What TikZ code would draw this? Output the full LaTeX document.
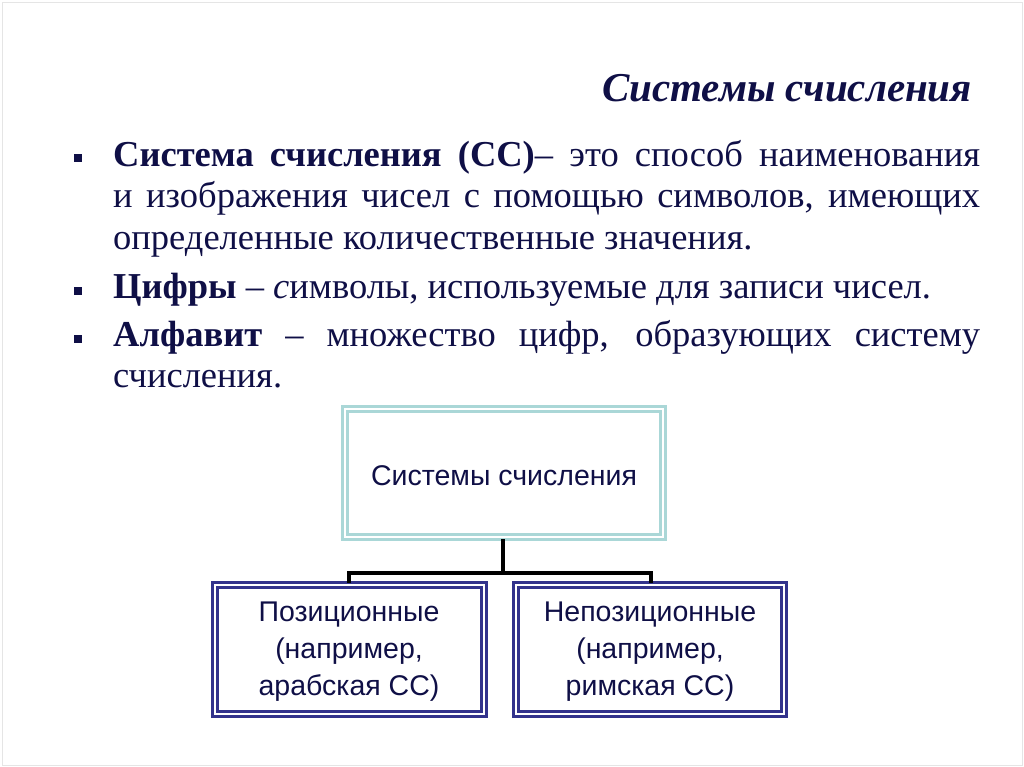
\documentclass[tikz,border=0pt]{standalone}
\usepackage{fontspec}
\setmainfont{Liberation Serif}
\newfontfamily\boxfont{Liberation Sans}
\definecolor{navy}{RGB}{15,15,70}
\definecolor{boxblue}{RGB}{50,50,140}
\definecolor{lcyan}{RGB}{170,215,215}
\tikzset{
 dbl/.style={draw=#1,line width=2.5pt,double=white,double distance=2.5pt},
 boxtxt/.style={font=\boxfont\fontsize{28.5}{37}\selectfont,text=navy,align=center},
 conn/.style={line width=4.5pt,black},
 bul/.style={fill=navy,minimum size=8pt,inner sep=0pt}
}
\begin{document}
\begin{tikzpicture}[x=1pt,y=-1pt]
\useasboundingbox (0,0) rectangle (1024,767);
\draw[gray!20,line width=0.6pt] (2,2) rectangle (1022,765);
\node[font=\fontsize{41}{48}\selectfont\bfseries\itshape,text=navy] (title) at (787,88) {Системы счисления};
\node[anchor=north west,inner sep=0pt,text width=867pt,align=justify,text=navy,font=\fontsize{36.5}{41.5}\selectfont] (body) at (113,140) {%
\textbf{Система счисления (СС)}– это способ наименования и изображения чисел с помощью символов, имеющих определенные количественные значения.\par\vspace{8pt}
\textbf{Цифры} – \textit{с}имволы, используемые для записи чисел.\par\vspace{6pt}
\textbf{Алфавит} – множество цифр, образующих систему счисления.\par};
\node[bul] (b1) at (77.5,158) {};
\node[bul] (b2) at (77.5,291) {};
\node[bul] (b3) at (77.5,339) {};
% boxes
\draw[dbl=lcyan] (345,409) rectangle (663,537);
\node[boxtxt] (top) at (504,476) {Системы счисления};
\draw[dbl=boxblue] (215,585) rectangle (484,714);
\node[boxtxt] (left) at (349,652) {Позиционные\\(например,\\арабская СС)};
\draw[dbl=boxblue] (516,585) rectangle (784,714);
\node[boxtxt] (right) at (650,652) {Непозиционные\\(например,\\римская СС)};
\coordinate (ts) at (503,539);
\coordinate (tm) at (503,573);
\coordinate (hl) at (349,573);
\coordinate (hr) at (651,573);
\coordinate (bl) at (349,583);
\coordinate (br) at (651,583);
\draw[conn] (ts) -- (tm);
\draw[conn,line cap=rect] (hl) -- (hr);
\draw[conn] (hl) -- (bl);
\draw[conn] (hr) -- (br);
\end{tikzpicture}
\end{document}
